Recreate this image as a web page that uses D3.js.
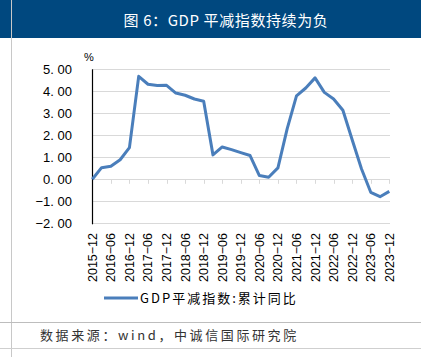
<!DOCTYPE html>
<html><head><meta charset="utf-8">
<script src="https://cdn.jsdelivr.net/npm/d3@7"></script>
<style>body{margin:0;background:#fff}svg{display:block}</style>
</head><body>
<script>
const quarters = ["2015-12","2016-03","2016-06","2016-09","2016-12","2017-03","2017-06","2017-09","2017-12","2018-03","2018-06","2018-09","2018-12","2019-03","2019-06","2019-09","2019-12","2020-03","2020-06","2020-09","2020-12","2021-03","2021-06","2021-09","2021-12","2022-03","2022-06","2022-09","2022-12","2023-03","2023-06","2023-09","2023-12"];
const values = [0.00,0.53,0.59,0.89,1.44,4.68,4.32,4.26,4.27,3.92,3.82,3.65,3.55,1.11,1.47,1.35,1.21,1.08,0.17,0.09,0.52,2.30,3.79,4.15,4.61,3.95,3.65,3.14,1.80,0.48,-0.59,-0.79,-0.55];
const xTickLabels = ["2015-12","2016-06","2016-12","2017-06","2017-12","2018-06","2018-12","2019-06","2019-12","2020-06","2020-12","2021-06","2021-12","2022-06","2022-12","2023-06","2023-12"];
const yTicks = [5,4,3,2,1,0,-1,-2];
const title = "图 6：GDP 平减指数持续为负";
const seriesName = "GDP平减指数:累计同比";
const source = "数据来源：wind，中诚信国际研究院";

const W = 421, H = 357;
const svg = d3.select("body").append("svg").attr("width", W).attr("height", H);
const cjk = "'Noto Sans CJK SC', sans-serif";

// title bar
svg.append("rect").attr("x",0).attr("y",0).attr("width",W).attr("height",38).attr("fill","#00487f");
svg.append("text").attr("x",226).attr("y",26).attr("text-anchor","middle").attr("fill","#fff")
  .attr("font-family",cjk).attr("font-size",15).attr("letter-spacing",0.6).text(title);
// frame lines
svg.append("line").attr("x1",11.5).attr("x2",11.5).attr("y1",0).attr("y2",H).attr("stroke","#c8c8c8").attr("stroke-width",1);
svg.append("line").attr("x1",0).attr("x2",W).attr("y1",322.5).attr("y2",322.5).attr("stroke","#bdbdbd").attr("stroke-width",1.2);
svg.append("line").attr("x1",0).attr("x2",W).attr("y1",348.5).attr("y2",348.5).attr("stroke","#cfcfcf").attr("stroke-width",1.2);

const x = d3.scalePoint().domain(quarters).range([92.3, 389.3]);
const y = d3.scaleLinear().domain([-2,5]).range([223.3, 69.3]);

// gridlines
svg.append("g").selectAll("line").data(yTicks).join("line")
  .attr("x1",92).attr("x2",390).attr("y1",d=>Math.round(y(d))+0.5).attr("y2",d=>Math.round(y(d))+0.5)
  .attr("stroke","#d9d9d9").attr("stroke-width",1);

// y axis labels
svg.append("g").selectAll("text").data(yTicks).join("text")
  .attr("x",72).attr("y",d=>y(d)+4.5).attr("text-anchor","end")
  .attr("font-family","'Liberation Sans', Arial, sans-serif").attr("font-size",13).attr("fill","#000")
  .text(d=>d3.format(".2f")(d).replace("-","−").replace(".",". "));
svg.append("text").attr("x",84).attr("y",61).attr("font-family","'Liberation Sans', sans-serif").attr("font-size",11).text("%");

// x ticks on zero line
svg.append("g").selectAll("line").data(xTickLabels).join("line")
  .attr("x1",d=>Math.round(x(d))+0.5).attr("x2",d=>Math.round(x(d))+0.5)
  .attr("y1",y(0)).attr("y2",y(0)+4.5).attr("stroke","#d9d9d9");

// y axis line
svg.append("line").attr("x1",92.5).attr("x2",92.5).attr("y1",y(5)).attr("y2",y(-2)+1).attr("stroke","#000").attr("stroke-width",1.2);

// x labels rotated
svg.append("g").selectAll("text").data(xTickLabels).join("text")
  .attr("transform",d=>`translate(${x(d)+4.5},${233}) rotate(-90)`)
  .attr("text-anchor","end")
  .attr("font-family","'Liberation Sans', Arial, sans-serif").attr("font-size",12.5).attr("fill","#000")
  .text(d=>d.replace("-","−"));

// line
const line = d3.line().x((d,i)=>x(quarters[i])).y(d=>y(d));
svg.append("path").datum(values).attr("d",line).attr("fill","none")
  .attr("stroke","#4a7ebb").attr("stroke-width",3).attr("stroke-linejoin","round");

// legend
svg.append("line").attr("x1",104).attr("x2",138).attr("y1",298).attr("y2",298).attr("stroke","#4a7ebb").attr("stroke-width",3);
svg.append("text").attr("x",140).attr("y",303).attr("font-family",cjk).attr("font-size",13).attr("fill","#000").attr("letter-spacing",2).text(seriesName);

// source
svg.append("text").attr("x",40).attr("y",340).attr("font-family",cjk).attr("font-size",13).attr("fill","#333").attr("letter-spacing",2.6).text(source);
</script>
</body></html>
